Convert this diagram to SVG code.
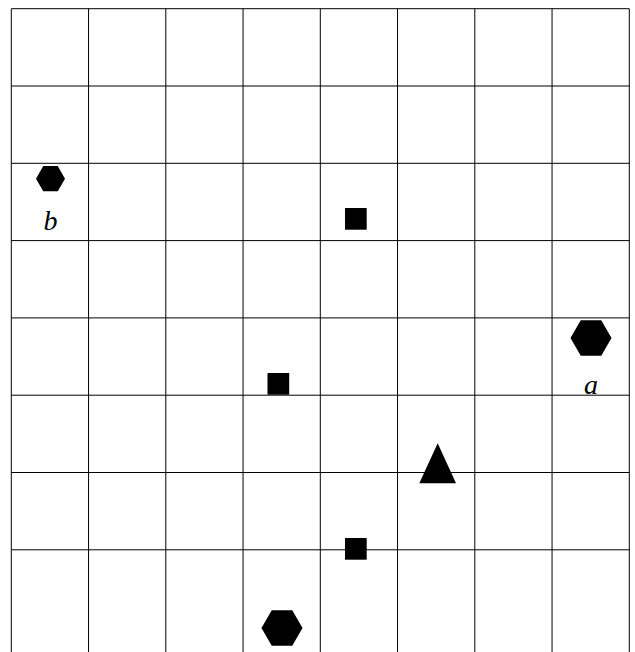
<svg xmlns="http://www.w3.org/2000/svg" width="635" height="652" viewBox="0 0 635 652">
<style>
.g{stroke:#000;stroke-width:1;fill:none}
.s{fill:#000;stroke:none}
.t{font-family:"Liberation Serif",serif;font-style:italic;font-size:28px;text-anchor:middle;fill:#000}
</style>
<rect width="635" height="652" fill="#fff"/>
<g id="grid" class="g">
<line x1="11.3" y1="8.7" x2="11.3" y2="652"/>
<line x1="88.55" y1="8.7" x2="88.55" y2="652"/>
<line x1="165.8" y1="8.7" x2="165.8" y2="652"/>
<line x1="243.05" y1="8.7" x2="243.05" y2="652"/>
<line x1="320.3" y1="8.7" x2="320.3" y2="652"/>
<line x1="397.55" y1="8.7" x2="397.55" y2="652"/>
<line x1="474.8" y1="8.7" x2="474.8" y2="652"/>
<line x1="552.05" y1="8.7" x2="552.05" y2="652"/>
<line x1="629.3" y1="8.7" x2="629.3" y2="652"/>
<line x1="11.3" y1="8.7" x2="629.3" y2="8.7"/>
<line x1="11.3" y1="86" x2="629.3" y2="86"/>
<line x1="11.3" y1="163.3" x2="629.3" y2="163.3"/>
<line x1="11.3" y1="240.6" x2="629.3" y2="240.6"/>
<line x1="11.3" y1="317.9" x2="629.3" y2="317.9"/>
<line x1="11.3" y1="395.2" x2="629.3" y2="395.2"/>
<line x1="11.3" y1="472.5" x2="629.3" y2="472.5"/>
<line x1="11.3" y1="549.8" x2="629.3" y2="549.8"/>
</g>
<g id="hex-b">
<polygon class="s" points="65,178.7 57.75,191.3 43.25,191.3 36,178.7 43.25,166.1 57.75,166.1"/>
<text class="t" x="50.5" y="229.5">b</text>
</g>
<g id="hex-a">
<polygon class="s" points="611.5,338 601.25,355.75 580.75,355.75 570.5,338 580.75,320.25 601.25,320.25"/>
<text class="t" x="591" y="394">a</text>
</g>
<g id="hex-c">
<polygon class="s" points="302.5,628 292.25,645.75 271.75,645.75 261.5,628 271.75,610.25 292.25,610.25"/>
</g>
<g id="tri">
<polygon class="s" points="437.7,443.3 456,483.3 419.3,483.3"/>
</g>
<g id="sq1"><rect class="s" x="345" y="208" width="21.7" height="21.7"/></g>
<g id="sq2"><rect class="s" x="267.5" y="373" width="21.7" height="21.7"/></g>
<g id="sq3"><rect class="s" x="345" y="538" width="21.7" height="21.7"/></g>
</svg>
